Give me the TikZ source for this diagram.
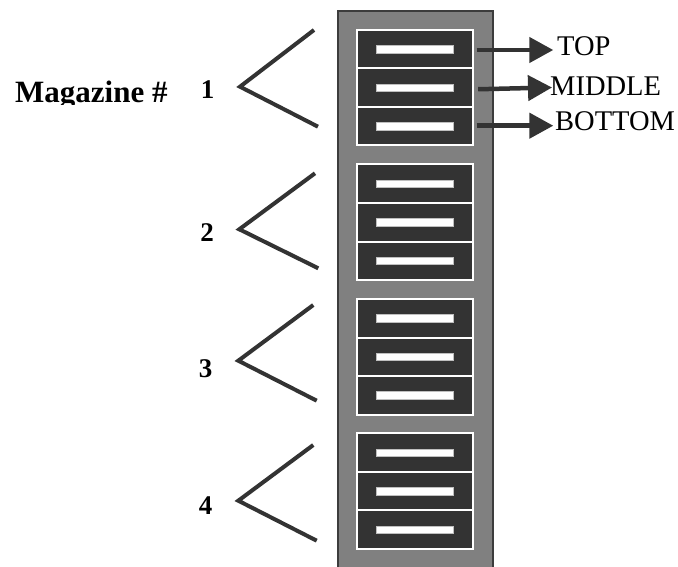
\documentclass[tikz,border=0pt]{standalone}
\usepackage{fontspec}
\setmainfont{Liberation Serif}
\usetikzlibrary{arrows.meta}
\definecolor{rackgray}{HTML}{808080}
\definecolor{rackedge}{HTML}{3C3C3C}
\definecolor{slotfill}{HTML}{333333}
\definecolor{inkdark}{HTML}{333333}
\begin{document}
\begin{tikzpicture}[x=1pt,y=-1pt,
  slotbox/.style={draw=white,line width=2pt,fill=slotfill,minimum width=116pt,
    minimum height=38.5pt,inner sep=0pt,outer sep=0pt},
  slotbar/.style={fill=white,draw=gray!50,line width=0.4pt,minimum width=77.6pt,
    minimum height=7.6pt,inner sep=0pt},
  chevron/.style={draw=inkdark,line width=4pt,line join=miter},
  levelarrow/.style={draw=inkdark,line width=4.5pt,-{Triangle[length=24pt,width=25pt]}},
  levellabel/.style={font=\fontsize{28.5}{30}\selectfont,inner sep=0pt,anchor=base west},
  magnum/.style={font=\fontsize{27}{28}\selectfont\bfseries,inner sep=0pt,anchor=base}]
\useasboundingbox (0,0) rectangle (678,567);

% rack housing
\filldraw[fill=rackgray,draw=rackedge,line width=1.5pt] (338,11) rectangle (493,575);

% four magazines, three slots each, with a white handle bar
\foreach \m/\top in {1/30,2/164.5,3/299,4/433.3}{
  \foreach \s in {0,1,2}{
    \node[slotbox] (m\m s\s) at (414.7,{\top+19.25+38.5*\s}) {};
    \node[slotbar] (m\m b\s) at (m\m s\s.center) {};
  }
}

% brackets grouping each magazine
\draw[chevron] (314,30) -- (240,86.7) -- (318,126.7);
\draw[chevron] (315,173.3) -- (239.3,229.3) -- (318.3,268.3);
\draw[chevron] (313.3,305) -- (238.3,360.7) -- (316.7,400.7);
\draw[chevron] (313.3,445) -- (238.3,500.7) -- (316.7,540.7);

% magazine numbers
\node[magnum] (n1) at (207.5,98.3) {1};
\node[magnum] (n2) at (207,241) {2};
\node[magnum] (n3) at (205.5,377) {3};
\node[magnum] (n4) at (205.5,514) {4};

\begin{scope}
  \clip (0,0) rectangle (200,105);
  \node[font=\fontsize{31}{32}\selectfont\bfseries,inner sep=0pt,anchor=base west]
    (maglabel) at (15,102.5) {Magazine \#};
\end{scope}

% slot position labels
\node[levellabel] (ltop) at (557,56) {TOP};
\node[levellabel] (lmid) at (550,96) {MIDDLE};
\node[levellabel] (lbot) at (555,130.7) {BOTTOM};

\coordinate (ttop) at (553.3,50);
\coordinate (tmid) at (552,87.5);
\coordinate (tbot) at (553.3,125.7);
\draw[levelarrow] ([xshift=4pt]m1s0.east |- ttop) -- (ttop);
\draw[levelarrow] ([xshift=5.5pt,yshift=-1.5pt]m1s1.east) -- (tmid);
\draw[levelarrow] ([xshift=4pt]m1s2.east |- tbot) -- (tbot);
\end{tikzpicture}
\end{document}
